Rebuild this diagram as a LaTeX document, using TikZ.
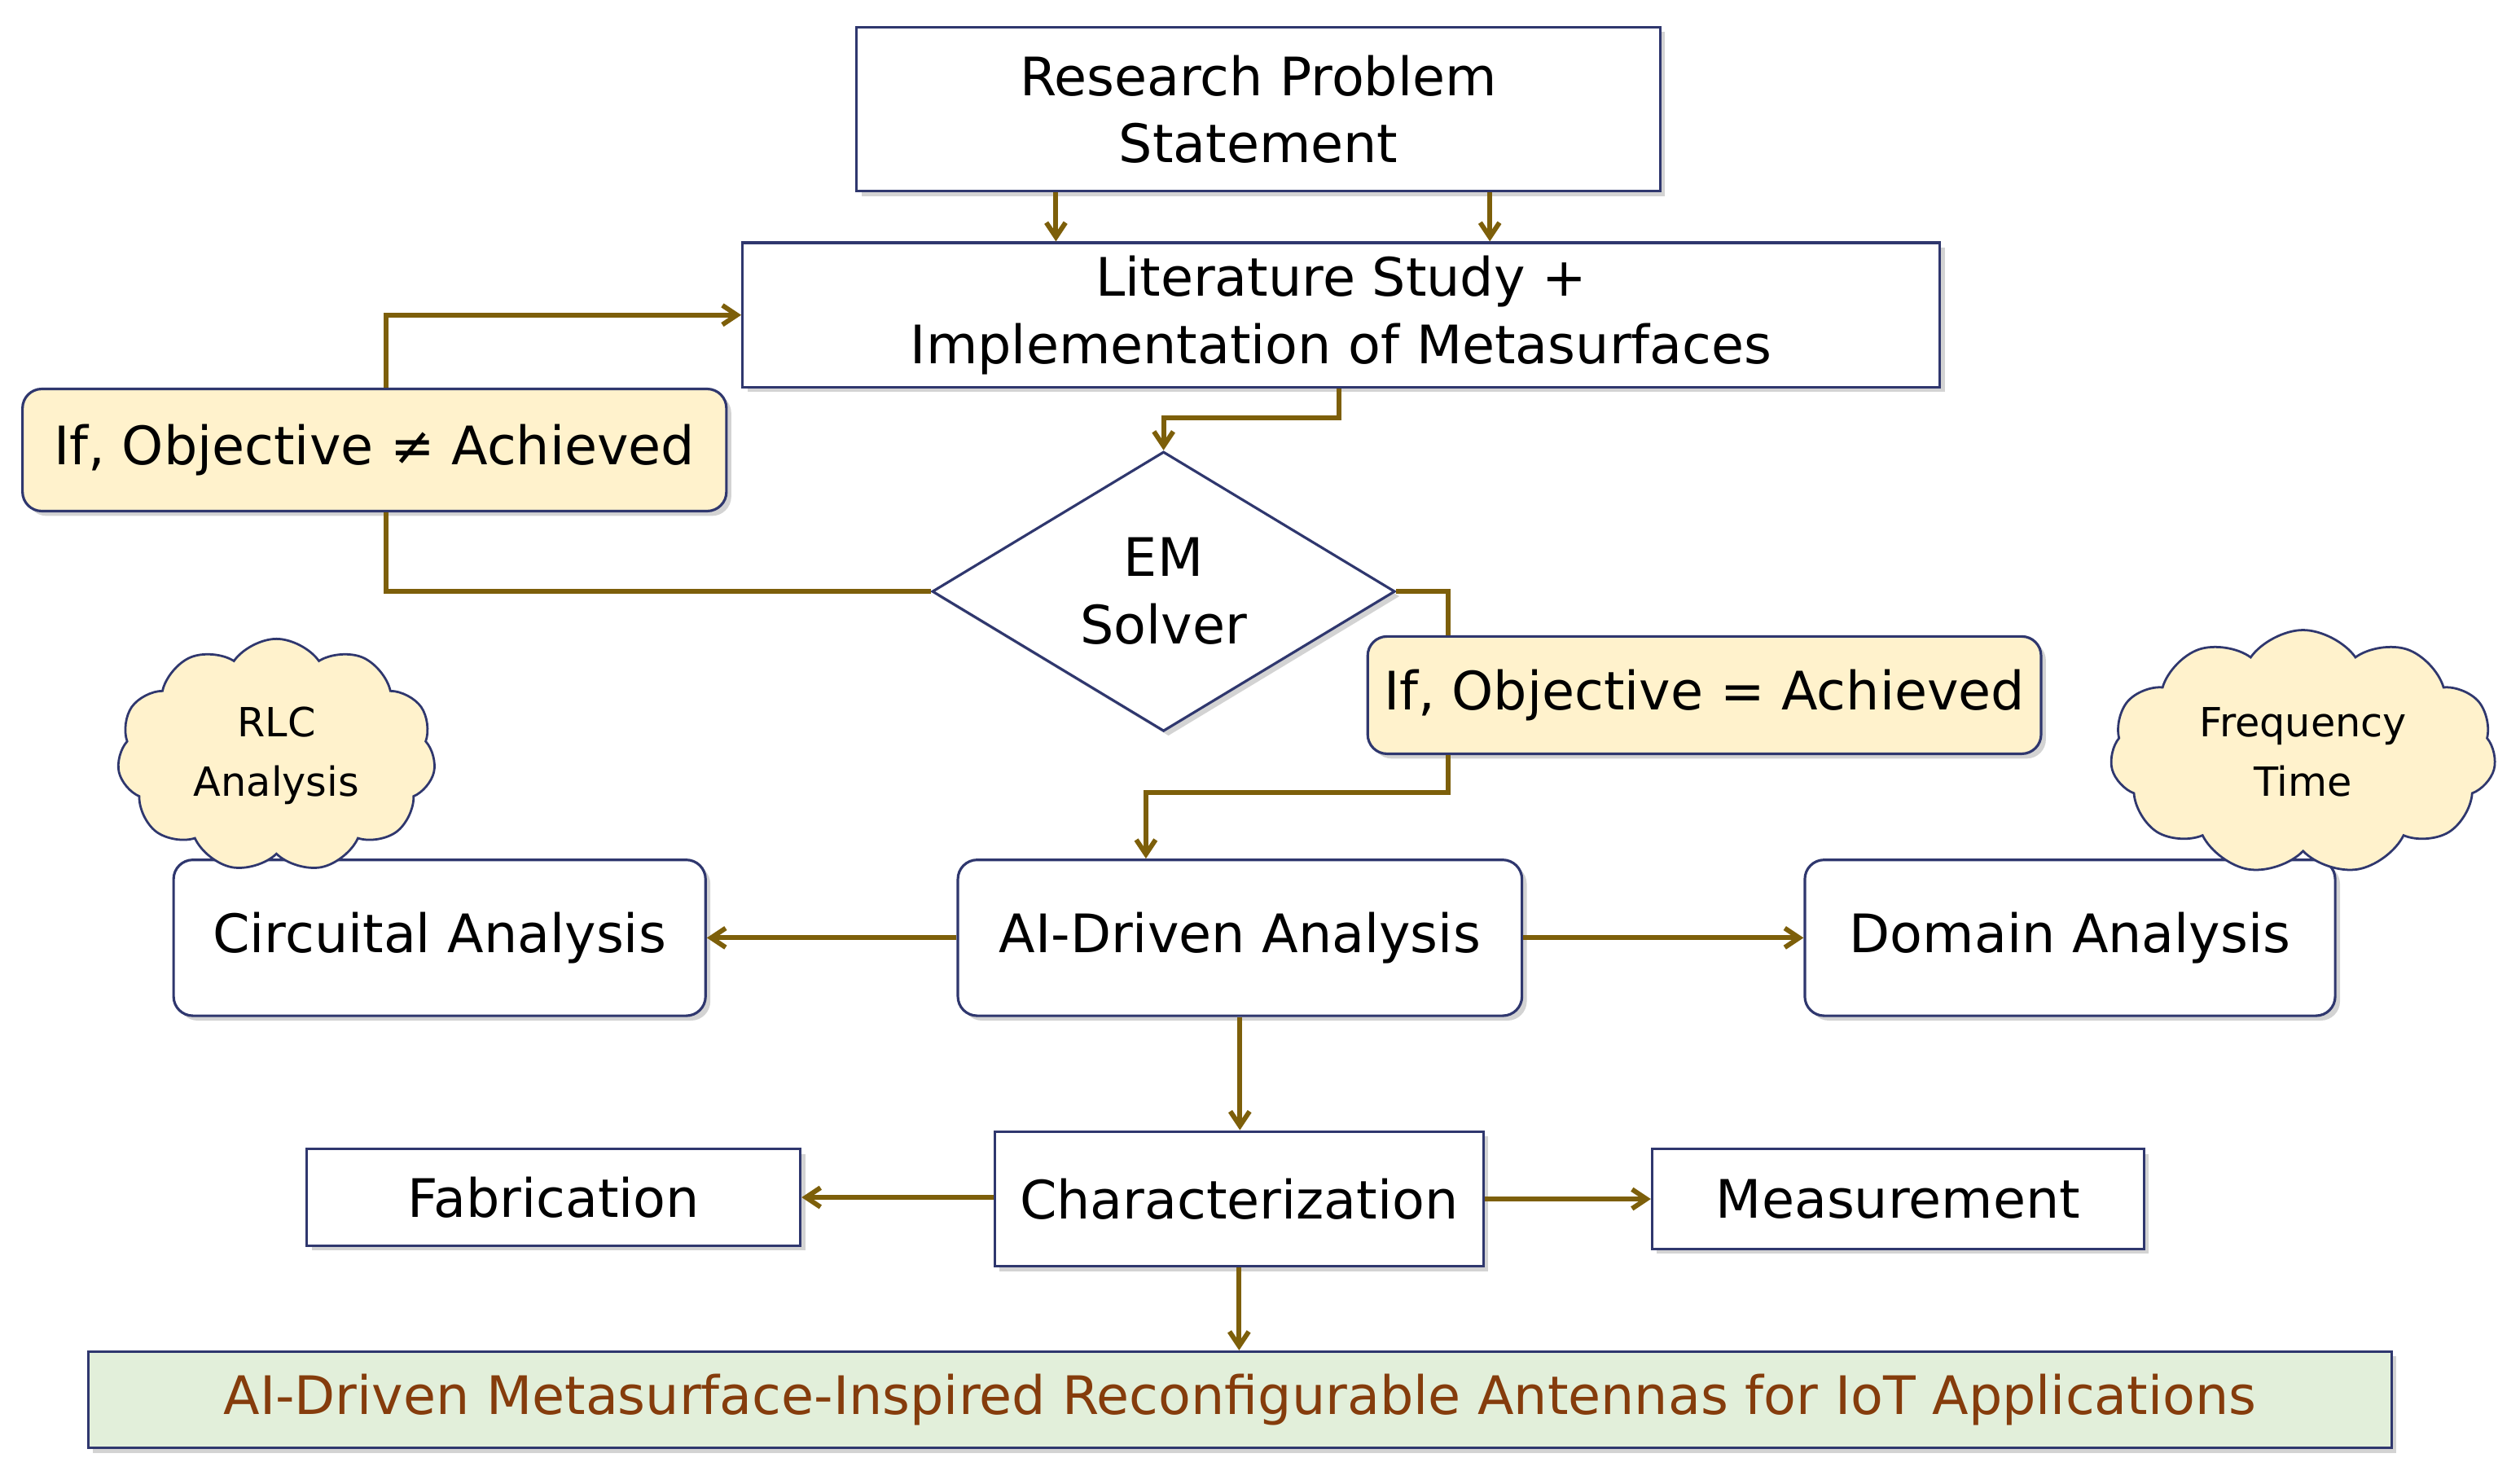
\documentclass[tikz,border=0pt]{standalone}
\usepackage{fontspec}
\setmainfont{DejaVu Sans}
\usetikzlibrary{shapes.geometric,shapes.symbols,shadows,calc,arrows.meta}
\definecolor{bd}{RGB}{47,55,110}
\definecolor{ar}{RGB}{125,95,10}
\definecolor{cream}{RGB}{255,242,204}
\definecolor{grn}{RGB}{226,239,218}
\definecolor{brn}{RGB}{133,60,12}
\begin{document}
\begin{tikzpicture}[x=1pt,y=-1pt,
 box/.style={draw=bd,line width=1.6pt,fill=white,align=center,inner sep=0,font=\fontsize{33}{42}\selectfont,drop shadow={opacity=0.35,shadow xshift=3pt,shadow yshift=-3pt}},
 rbox/.style={box,rounded corners=12pt},
 ybox/.style={box,rounded corners=12pt,fill=cream},
 cl/.style={cloud,cloud puffs=11,cloud puff arc=110,aspect=1.4,draw=bd,line width=1.4pt,fill=cream,align=center,font=\fontsize{25}{37}\selectfont,inner sep=0},
 arr/.style={draw=ar,line width=3pt,->,>={Straight Barb[length=9pt,width=12pt]}},
 ln/.style={draw=ar,line width=3pt}]
\useasboundingbox (0,0) rectangle (1568,915);
\node[box,minimum width=500,minimum height=102] (rp) at (783,68) {Research Problem\\Statement};
\node[box,minimum width=745,minimum height=90] (lit) at (834.5,196) {Literature Study +\\Implementation of Metasurfaces};
\node[ybox,minimum width=438,minimum height=76] (ne) at (233,280) {If, Objective ≠ Achieved};
\node[diamond,draw=bd,line width=1.6pt,fill=white,minimum width=288,minimum height=174,inner sep=0,align=center,font=\fontsize{33}{42}\selectfont,drop shadow={opacity=0.35,shadow xshift=3pt,shadow yshift=-3pt}] (em) at (724,368) {EM\\Solver};
\node[ybox,minimum width=419,minimum height=73] (eq) at (1060.5,432.5) {If, Objective = Achieved};
\node[rbox,minimum width=351,minimum height=97] (ai) at (771.5,583.5) {AI-Driven Analysis};
\node[rbox,minimum width=331,minimum height=97] (ca) at (273.5,583.5) {Circuital Analysis};
\node[rbox,minimum width=330,minimum height=97] (da) at (1288,583.5) {Domain Analysis};
\node[cl,minimum width=198,minimum height=145] (c1) at (172,470) {RLC\\Analysis};
\node[cl,minimum width=240,minimum height=148] (c2) at (1433,468) {Frequency\\Time};
\node[box,minimum width=304,minimum height=84] (ch) at (771,746) {Characterization};
\node[box,minimum width=307,minimum height=60] (fa) at (344.5,745) {Fabrication};
\node[box,minimum width=306,minimum height=62] (me) at (1181,746) {Measurement};
\node[box,fill=grn,text=brn,minimum width=1433,minimum height=60] (fin) at (771.5,871) {AI-Driven Metasurface-Inspired Reconfigurable Antennas for IoT Applications};
\coordinate (lx) at (240,0);
\coordinate (rx) at (901,0);
\draw[arr] (rp.south -| 657,0) -- (lit.north -| 657,0);
\draw[arr] (rp.south -| 927,0) -- (lit.north -| 927,0);
\draw[arr] (lit.south -| 833,0) -- (833,260) -- (724,260) -- (em.north);
\draw[ln] (em.west) -| (lx |- ne.south);
\draw[arr] (lx |- ne.north) |- (lit.west);
\draw[ln] (em.east) -| (rx |- eq.north);
\draw[arr] (rx |- eq.south) -- (901,493) -- (713,493) -- (ai.north -| 713,0);
\draw[arr] (ai.west) -- (ca.east);
\draw[arr] (ai.east) -- (da.west);
\draw[arr] (ai.south) -- (ch.north -| ai.south);
\draw[arr] (ch.west |- fa.east) -- (fa.east);
\draw[arr] (ch.east |- me.west) -- (me.west);
\draw[arr] (ch.south) -- (fin.north -| ch.south);
\end{tikzpicture}
\end{document}
